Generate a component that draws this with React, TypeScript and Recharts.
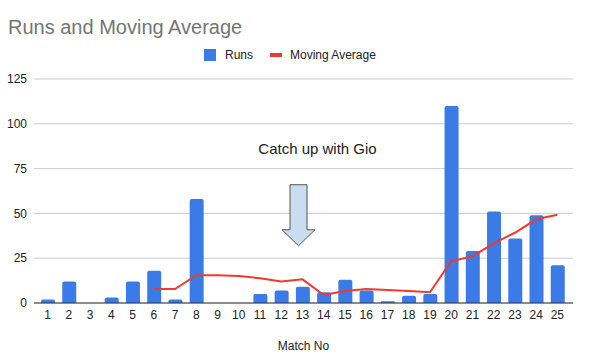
import React from 'react';
import { ComposedChart, Bar, Line, XAxis, YAxis, CartesianGrid, ReferenceDot } from 'recharts';

const matches = ['1','2','3','4','5','6','7','8','9','10','11','12','13','14','15','16','17','18','19','20','21','22','23','24','25'];
const runs = [2, 12, 0, 3, 12, 18, 2, 58, 0, 0, 5, 7, 9, 6, 13, 7, 1, 4, 5, 110, 29, 51, 36, 49, 21];
const movingAvg: (number | null)[] = [null, null, null, null, null, 7.8, 7.8, 15.5, 15.5, 15, 13.8, 12, 13.2, 4.5, 6.7, 7.8, 7.2, 6.7, 6, 23.3, 26, 33.3, 39.2, 46.7, 49.3];
const yTicks = [0, 25, 50, 75, 100, 125];
const seriesNames = ['Runs', 'Moving Average'];
const annotationText = 'Catch up with Gio';
const annotationMatch = '13';
const annotationArrowTop = 66;

const data = matches.map((m, i) => ({ match: m, runs: runs[i], avg: movingAvg[i] }));

const FONT = 'Arial, "Liberation Sans", sans-serif';
const BLUE = '#3b7be8';
const RED = '#ee3a2f';

const ArrowShape = (props: any) => {
  const { cx, cy } = props;
  const x = cx - 4;
  const t = cy;
  const pts = [
    [x - 8.5, t], [x + 8.5, t], [x + 8.5, t + 45], [x + 16.5, t + 45],
    [x, t + 61], [x - 16.5, t + 45], [x - 8.5, t + 45],
  ].map((p) => p.join(',')).join(' ');
  return (
    <g>
      <text x={cx + 15} y={cy - 31} textAnchor="middle" fontSize={15} fontFamily={FONT} fill="#222">{annotationText}</text>
      <polygon points={pts} fill="#c9dcf0" stroke="#555" strokeWidth={1} />
    </g>
  );
};

export default function App() {
  return (
    <div style={{ position: 'absolute', left: 0, top: 0, width: 604, height: 359, background: '#fff' }}>
      <div style={{ position: 'absolute', left: 8, top: 15, fontFamily: FONT, fontSize: 20, color: '#757575', lineHeight: '24px', whiteSpace: 'nowrap' }}>
        Runs and Moving Average
      </div>
      <div style={{ position: 'absolute', left: 204, top: 48, height: 14, display: 'flex', alignItems: 'center', fontFamily: FONT, fontSize: 12, color: '#222', whiteSpace: 'nowrap' }}>
        <span style={{ display: 'inline-block', width: 12, height: 12, background: BLUE, marginRight: 9 }} />
        <span style={{ marginRight: 17 }}>{seriesNames[0]}</span>
        <span style={{ display: 'inline-block', width: 12, height: 4, background: RED, marginRight: 8 }} />
        <span>{seriesNames[1]}</span>
      </div>
      <ComposedChart width={604} height={359} data={data} margin={{ top: 79, right: 31, left: 0, bottom: 0 }} barSize={14}>
        <CartesianGrid vertical={false} stroke="#cccccc" />
        <XAxis
          dataKey="match"
          height={56}
          padding={{ left: 3, right: 5 }}
          tickLine={false}
          tickSize={6}
          tickMargin={1}
          axisLine={{ stroke: '#333' }}
          tick={{ fontSize: 12, fontFamily: FONT, fill: '#222' }}
          interval={0}
          label={{ value: 'Match No', position: 'insideBottom', offset: 9, fontSize: 12, fontFamily: FONT, fill: '#222' }}
        />
        <YAxis
          width={34}
          domain={[0, 125]}
          ticks={yTicks}
          axisLine={false}
          tickLine={false}
          tickSize={6}
          tickMargin={1}
          tick={{ fontSize: 12, fontFamily: FONT, fill: '#222' }}
        />
        <Bar dataKey="runs" name={seriesNames[0]} fill={BLUE} radius={[2, 2, 0, 0]} isAnimationActive={false} />
        <Line dataKey="avg" name={seriesNames[1]} type="linear" stroke={RED} strokeWidth={2} dot={false} connectNulls={false} isAnimationActive={false} />
        <ReferenceDot x={annotationMatch} y={annotationArrowTop} shape={ArrowShape} />
      </ComposedChart>
    </div>
  );
}
